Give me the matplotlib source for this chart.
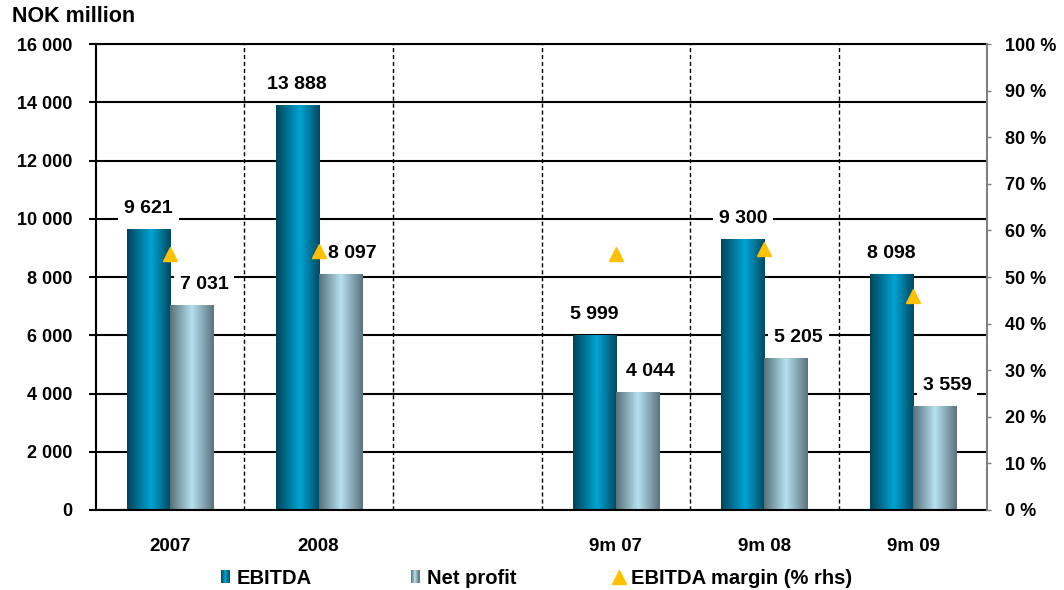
import matplotlib
matplotlib.use("Agg")
import matplotlib.pyplot as plt
import numpy as np
from matplotlib.colors import LinearSegmentedColormap
from matplotlib.legend_handler import HandlerBase
from matplotlib.lines import Line2D
from matplotlib.patches import Rectangle
from matplotlib.ticker import FuncFormatter, MultipleLocator

# NOK million, empty slot separates full years from nine-month figures
categories = ["2007", "2008", "", "9m 07", "9m 08", "9m 09"]
ebitda = [9621, 13888, np.nan, 5999, 9300, 8098]
net_profit = [7031, 8097, np.nan, 4044, 5205, 3559]
ebitda_margin = [55.0, 55.5, np.nan, 55.0, 56.0, 46.0]  # percent, right axis

series_names = ["EBITDA", "Net profit", "EBITDA margin (% rhs)"]

EBITDA_CMAP = LinearSegmentedColormap.from_list(
    "ebitda", [(0.0, "#00445a"), (0.55, "#00a4d3"), (1.0, "#004860")]
)
NP_CMAP = LinearSegmentedColormap.from_list(
    "net_profit", [(0.0, "#56707a"), (0.5, "#b6e0ef"), (1.0, "#5a737e")]
)
MARGIN_COLOR = "#FFC000"

plt.rcParams["font.family"] = ["Liberation Sans", "DejaVu Sans"]
plt.rcParams["font.weight"] = "bold"
plt.rcParams["font.size"] = 13


def thousands(v, _pos=None):
    return f"{int(round(v)):,}".replace(",", " ")


class GradientHandler(HandlerBase):
    """Legend swatch drawn as vertical strips of a colormap."""

    def __init__(self, cmap, strips=8):
        super().__init__()
        self.cmap = cmap
        self.strips = strips

    def create_artists(self, legend, orig_handle, xdescent, ydescent,
                       width, height, fontsize, trans):
        out = []
        for i in range(self.strips):
            out.append(Rectangle(
                (-xdescent + width * i / self.strips, -ydescent),
                width / self.strips, height,
                facecolor=self.cmap((i + 0.5) / self.strips),
                edgecolor="none", transform=trans,
            ))
        return out


def fill_gradient(ax, bars, cmap):
    # paint each bar with a horizontal gradient (cylinder look)
    grad = np.linspace(0, 1, 256).reshape(1, -1)
    for bar in bars:
        h = bar.get_height()
        if not np.isfinite(h) or h <= 0:
            continue
        x0, w = bar.get_x(), bar.get_width()
        ax.imshow(grad, cmap=cmap, extent=[x0, x0 + w, 0, h],
                  aspect="auto", interpolation="bilinear", zorder=2)


def label_bars(ax, bars, values, dx):
    for bar, v in zip(bars, values):
        if not np.isfinite(v):
            continue
        ax.annotate(thousands(v), (bar.get_x() + bar.get_width() / 2, v),
                    xytext=(dx, 15), textcoords="offset points",
                    ha="center", va="center", fontsize=14, fontweight="bold",
                    zorder=4,
                    bbox=dict(boxstyle="square,pad=0.3", fc="white", ec="none"))


fig = plt.figure(figsize=(10.64, 5.90), dpi=100)
ax = fig.add_axes([0.09, 0.1356, 0.838, 0.7898])

x = np.arange(len(categories))
w = 0.29
bars_e = ax.bar(x - w / 2, ebitda, w, color="none", zorder=2)
bars_n = ax.bar(x + w / 2, net_profit, w, color="none", zorder=2)
fill_gradient(ax, bars_e, EBITDA_CMAP)
fill_gradient(ax, bars_n, NP_CMAP)
label_bars(ax, bars_e, ebitda, 0)
label_bars(ax, bars_n, net_profit, 9)

ax.set_xlim(-0.5, len(categories) - 0.5)
ax.set_ylim(0, 16000)
ax.yaxis.set_major_locator(MultipleLocator(2000))
ax.yaxis.set_major_formatter(FuncFormatter(thousands))
ax.set_xticks(x, categories)
ax.set_xticks(x[:-1] + 0.5, minor=True)
ax.tick_params(axis="x", which="both", length=0, pad=20, labelsize=13.5)
ax.tick_params(axis="y", length=5, width=1.5, color="black", pad=12, labelsize=13)

ax.grid(axis="y", color="black", linewidth=1.5, zorder=0)
ax.grid(axis="x", which="minor", color="black", linewidth=1.0,
        linestyle=(0, (3, 2)), zorder=0)
ax.set_axisbelow(True)
for side in ("left", "top", "bottom"):
    ax.spines[side].set_linewidth(1.5)
    ax.spines[side].set_color("black")
ax.spines["right"].set_visible(False)

# margin on the secondary axis
ax2 = ax.twinx()
ax2.set_ylim(0, 100)
ax2.yaxis.set_major_locator(MultipleLocator(10))
ax2.yaxis.set_major_formatter(FuncFormatter(lambda v, p: f"{int(v)} %"))
ax2.plot(x, ebitda_margin, linestyle="none", marker="^", markersize=10,
         color=MARGIN_COLOR, zorder=5)
ax2.tick_params(axis="y", length=3, width=1, color="#808080", pad=10, labelsize=13)
for side in ("left", "top", "bottom"):
    ax2.spines[side].set_visible(False)
ax2.spines["right"].set_color("#808080")
ax2.spines["right"].set_linewidth(1.5)

fig.text(0.011, 0.972, "NOK million", fontsize=15.5, fontweight="bold",
         ha="left", va="center")

handles = [
    Rectangle((0, 0), 1, 1),
    Rectangle((0, 0), 1, 1, facecolor="gray"),
    Line2D([], [], linestyle="none", marker="^", markersize=10, color=MARGIN_COLOR),
]
leg = fig.legend(handles, series_names, loc="center", bbox_to_anchor=(0.504, 0.02),
                 ncol=3, frameon=False, fontsize=14.5, handlelength=0.45,
                 handleheight=0.6, handletextpad=0.35, columnspacing=4.9,
                 handler_map={handles[0]: GradientHandler(EBITDA_CMAP),
                              handles[1]: GradientHandler(NP_CMAP)})

fig.savefig("out.png", dpi=100)
